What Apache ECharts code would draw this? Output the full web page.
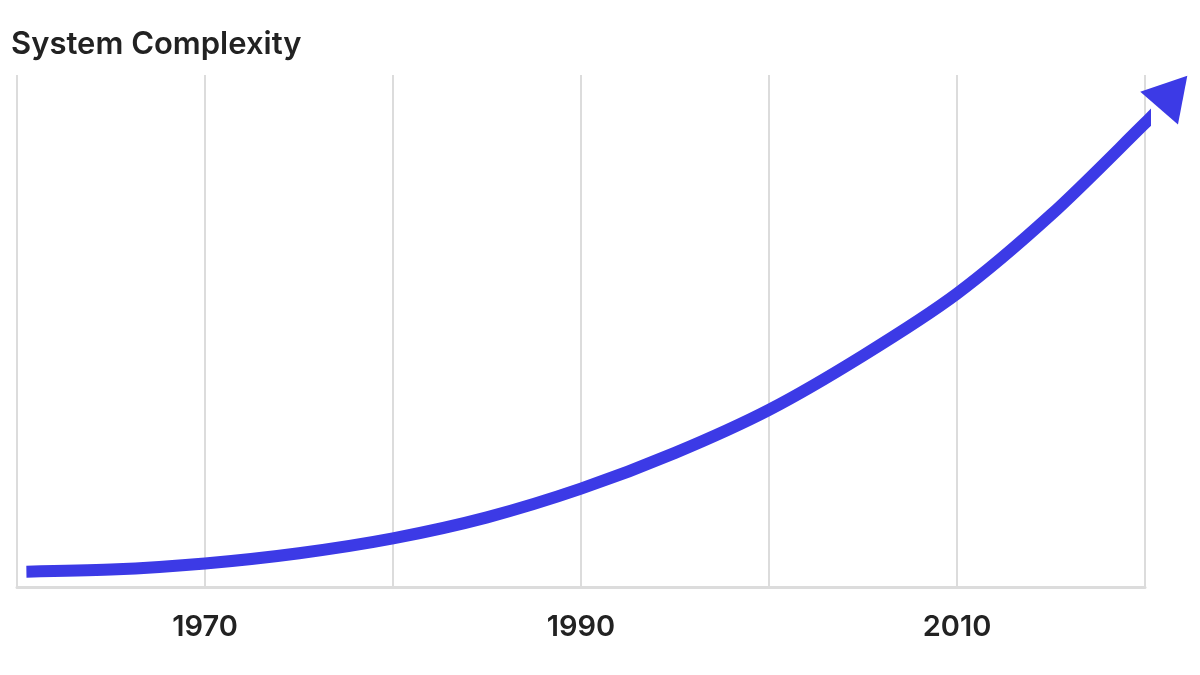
<!DOCTYPE html>
<html>
<head>
<meta charset="utf-8">
<script src="https://cdn.jsdelivr.net/npm/echarts@6/dist/echarts.min.js"></script>
<style>
html,body{margin:0;padding:0;background:#fff;}
#chart{width:1200px;height:675px;}
</style>
</head>
<body>
<div id="chart"></div>
<script>
const titleText = 'System Complexity';
const years = [1960.5, 1965, 1970, 1975, 1980, 1985, 1990, 1995, 2000, 2005, 2010, 2015, 2020, 2020.8];
const complexity = [3.0, 3.4, 4.6, 6.6, 9.5, 13.6, 19.2, 26.2, 34.6, 45.2, 57.3, 72.7, 90.6, 93.6];
const arrowHead = [2021.5, 96.7];
const labelYears = [1970, 1990, 2010];

const chart = echarts.init(document.getElementById('chart'), null, {renderer: 'canvas'});
const lineColor = '#3c3ae6';
const gridColor = '#dcdcdc';
const option = {
  backgroundColor: '#ffffff',
  animation: false,
  title: {
    text: titleText,
    left: 6,
    top: 24,
    textStyle: {fontFamily: 'Inter', fontWeight: 600, fontSize: 31, color: '#222222'}
  },
  grid: {left: 17, right: 55, top: 75, bottom: 88},
  xAxis: {
    type: 'value',
    min: 1960,
    max: 2020,
    interval: 10,
    axisLine: {show: true, lineStyle: {color: gridColor, width: 3}},
    axisTick: {show: false},
    splitLine: {show: true, lineStyle: {color: gridColor, width: 2}},
    axisLabel: {
      margin: 26,
      fontFamily: 'Inter',
      fontWeight: 600,
      fontSize: 29,
      color: '#222222',
      showMinLabel: true,
      showMaxLabel: true,
      formatter: v => labelYears.includes(v) ? String(v) : ''
    }
  },
  yAxis: {
    type: 'value',
    min: 0,
    max: 100,
    show: false,
    splitLine: {show: false}
  },
  series: [
    {
      type: 'line',
      data: years.map((y, i) => [y, complexity[i]]),
      smooth: 0.3,
      symbol: 'none',
      clip: false,
      lineStyle: {color: lineColor, width: 12, cap: 'butt', join: 'round'}
    },
    {
      type: 'scatter',
      data: [arrowHead],
      symbol: 'triangle',
      symbolSize: [50, 43],
      symbolRotate: -41,
      clip: false,
      itemStyle: {color: lineColor, opacity: 1}
    }
  ]
};
chart.setOption(option);
</script>
</body>
</html>
